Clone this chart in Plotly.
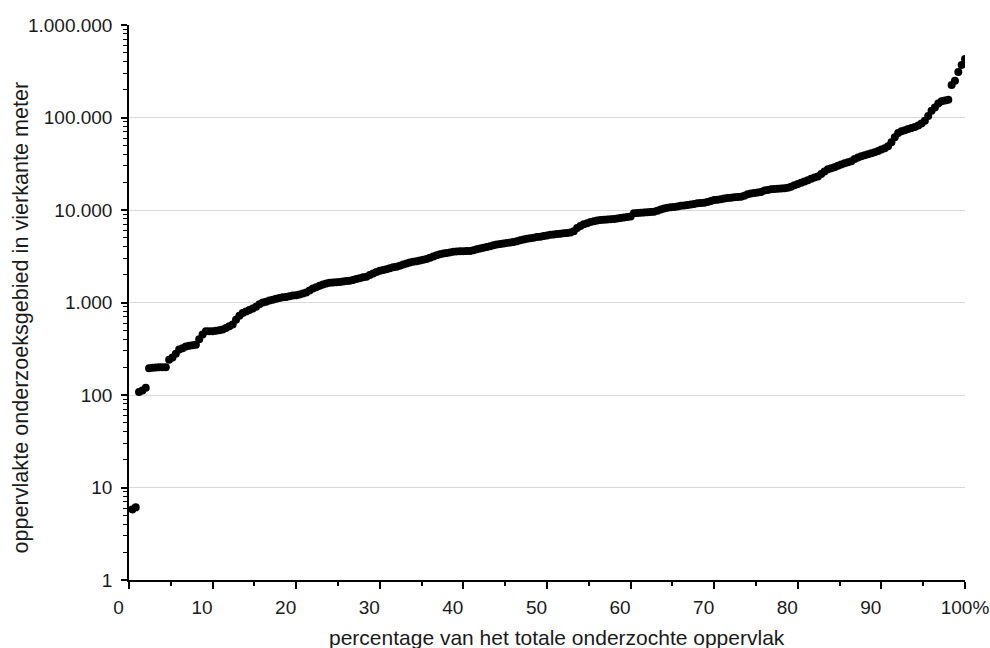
import plotly.graph_objects as go

# Surface of each investigated area (m2), sorted ascending; one value per 0.4 % step
area_m2 = [
    5.8, 6.1, 108, 112, 120, 195, 197, 198, 200, 200,
    200, 240, 255, 280, 310, 320, 335, 340, 345, 350,
    400, 450, 490, 490, 490, 495, 500, 510, 530, 555,
    580, 650, 720, 770, 800, 830, 860, 900, 960, 1000,
    1020, 1050, 1070, 1100, 1120, 1140, 1150, 1170, 1190, 1200,
    1220, 1250, 1280, 1350, 1420, 1460, 1520, 1570, 1600, 1630,
    1650, 1660, 1670, 1690, 1710, 1720, 1750, 1790, 1830, 1870,
    1900, 1980, 2060, 2140, 2200, 2240, 2290, 2340, 2400, 2440,
    2500, 2570, 2640, 2700, 2750, 2800, 2850, 2900, 2950, 3050,
    3150, 3250, 3330, 3380, 3430, 3480, 3530, 3560, 3580, 3590,
    3600, 3610, 3680, 3760, 3840, 3900, 3980, 4060, 4150, 4240,
    4300, 4350, 4400, 4460, 4520, 4600, 4700, 4800, 4900, 4950,
    5000, 5100, 5150, 5250, 5300, 5400, 5450, 5500, 5550, 5600,
    5650, 5700, 5900, 6400, 6700, 7000, 7200, 7400, 7550, 7700,
    7800, 7850, 7900, 7950, 8000, 8100, 8200, 8300, 8400, 8500,
    9200, 9300, 9350, 9400, 9450, 9500, 9550, 9800, 10100, 10400,
    10600, 10700, 10800, 10900, 11100, 11200, 11300, 11500, 11600, 11800,
    11900, 12000, 12200, 12500, 12800, 12900, 13100, 13300, 13500, 13600,
    13700, 13800, 13900, 14300, 14800, 15100, 15300, 15500, 15700, 16200,
    16500, 16800, 16900, 17000, 17100, 17200, 17400, 17800, 18500, 19100,
    19700, 20300, 21000, 21800, 22400, 23000, 24500, 26000, 27500, 28300,
    29000, 30000, 31000, 32000, 32800, 33600, 35500, 37000, 38200, 39000,
    40000, 41000, 42000, 43500, 45000, 46500, 49000, 54000, 61000, 68000,
    71000, 73000, 75000, 77000, 79000, 82000, 86000, 92000, 104000, 118000,
    128000, 142000, 150000, 153000, 156000, 225000, 250000, 310000, 370000, 430000,
]
# cumulative percentage (rank of each area among all areas)
n = len(area_m2)
percentage = [100.0 * (i + 1) / n for i in range(n)]

x_tickvals = [0, 10, 20, 30, 40, 50, 60, 70, 80, 90, 100]
NB = "\u00a0" * 4
x_ticktext = [f"{v}{NB}" for v in x_tickvals[:-1]] + ["100%"]
x_minorvals = [5, 15, 25, 35, 45, 55, 65, 75, 85, 95]

y_tickvals = [1, 10, 100, 1000, 10000, 100000, 1000000]
y_ticktext = ["1", "10", "100", "1.000", "10.000", "100.000", "1.000.000"]
y_minorvals = [m * d for d in [1, 10, 100, 1000, 10000, 100000] for m in range(2, 10)]

x_title = "percentage van het totale onderzochte oppervlak"
y_title = "oppervlakte onderzoeksgebied in vierkante meter"

FONT = "Liberation Sans, Arial, sans-serif"

fig = go.Figure()
fig.add_trace(go.Scatter(
    x=percentage, y=area_m2, mode="markers",
    marker=dict(color="black", size=8, line=dict(width=0)),
    showlegend=False, hoverinfo="x+y",
))

fig.update_layout(
    width=990, height=648,
    margin=dict(l=129, r=25, t=25, b=68, autoexpand=False),
    paper_bgcolor="white", plot_bgcolor="white",
    font=dict(family=FONT, size=19, color="#1a1a1a"),
    showlegend=False,
)
fig.update_xaxes(
    range=[0, 100], showgrid=False, zeroline=False, automargin=False,
    showline=True, linecolor="black", linewidth=1.5,
    ticks="outside", ticklen=7, tickcolor="black", tickwidth=1.5,
    tickmode="array", tickvals=x_tickvals, ticktext=x_ticktext,
    ticklabelstandoff=2,
    minor=dict(tickmode="array", tickvals=x_minorvals, ticks="outside",
               ticklen=4, tickcolor="black", tickwidth=1.5, showgrid=False),
)
fig.update_yaxes(
    type="log", range=[0, 6], automargin=False,
    showgrid=True, gridcolor="#d9d9d9", gridwidth=1, zeroline=False,
    showline=True, linecolor="black", linewidth=1.5,
    ticks="outside", ticklen=6, tickcolor="black", tickwidth=1.5,
    tickmode="array", tickvals=y_tickvals, ticktext=y_ticktext,
    ticklabelstandoff=5,
    minor=dict(tickmode="array", tickvals=y_minorvals, ticks="outside",
               ticklen=4, tickcolor="black", tickwidth=1, showgrid=False),
)

fig.add_annotation(
    text=x_title, xref="paper", yref="paper", x=0.5, y=0,
    xanchor="center", yanchor="middle", xshift=10, yshift=-57,
    showarrow=False, font=dict(family=FONT, size=21, color="#1a1a1a"),
)
fig.add_annotation(
    text=y_title, xref="paper", yref="paper", x=0, y=0.5,
    xanchor="center", yanchor="middle", xshift=-109, yshift=-15,
    textangle=-90, showarrow=False,
    font=dict(family=FONT, size=21.6, color="#1a1a1a"),
)

fig.write_html(
    "out.html",
    config={"displayModeBar": False},
    post_script="document.body.style.margin='0';"
                "document.documentElement.style.overflow='hidden';",
)
